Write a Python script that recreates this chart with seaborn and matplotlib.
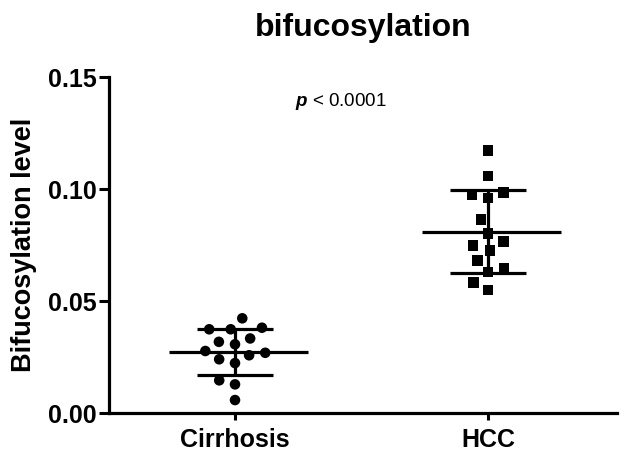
import numpy as np
import pandas as pd
import matplotlib
matplotlib.use("Agg")
import matplotlib.pyplot as plt
import seaborn as sns

# values
groups = ["Cirrhosis", "HCC"]
cirrhosis = [0.0423, 0.0374, 0.0381, 0.0374, 0.0318, 0.0333, 0.0307, 0.0277,
             0.0258, 0.0269, 0.0223, 0.0240, 0.0146, 0.0128, 0.0058]
hcc = [0.1173, 0.1058, 0.0984, 0.0976, 0.0961, 0.0865, 0.0802, 0.0765,
       0.0749, 0.0726, 0.0682, 0.0646, 0.0629, 0.0582, 0.0549]
y_ticks = [0.00, 0.05, 0.10, 0.15]

df = pd.DataFrame({
    "group": ["Cirrhosis"] * len(cirrhosis) + ["HCC"] * len(hcc),
    "value": cirrhosis + hcc,
})

sns.set_style("ticks")
plt.rcParams["font.family"] = ["Liberation Sans", "DejaVu Sans"]
plt.rcParams["mathtext.fontset"] = "custom"
plt.rcParams["mathtext.rm"] = "Liberation Sans"
plt.rcParams["mathtext.bfit"] = "Liberation Sans:italic:bold"

fig = plt.figure(figsize=(6.29, 4.62), dpi=100)
ax = fig.add_axes([0.1733, 0.106, 0.8077, 0.727])

markers = {"Cirrhosis": "o", "HCC": "s"}
for g in groups:
    # invisible edge widens the swarm spacing (Prism-like spread)
    sns.swarmplot(data=df[df["group"] == g], x="group", y="value", order=groups,
                  marker=markers[g], color="black", size=7.6, linewidth=3.6,
                  edgecolor="none", ax=ax, zorder=3)

# mean +/- SD
stats = df.groupby("group")["value"].agg(["mean", "std"]).reindex(groups)
for i, g in enumerate(groups):
    m, s = stats.loc[g, "mean"], stats.loc[g, "std"]
    ax.hlines(m, i - 0.26, i + 0.29, color="black", lw=2.3, zorder=4)
    ax.hlines([m - s, m + s], i - 0.15, i + 0.15, color="black", lw=2.3, zorder=4)
    ax.vlines(i, m - s, m + s, color="black", lw=2.3, zorder=4)

ax.set_xlim(-0.498, 1.51)
ax.set_ylim(0, 0.15)
ax.set_yticks(y_ticks)
ax.set_yticklabels([f"{t:.2f}" for t in y_ticks])
ax.set_xlabel("")
ax.set_ylabel("Bifucosylation level", fontsize=19.5, fontweight="bold",
              labelpad=8, color="black")

for lab in ax.get_xticklabels() + ax.get_yticklabels():
    lab.set_fontweight("bold")
ax.tick_params(axis="both", labelsize=18, width=2.2, color="black",
               labelcolor="black")
ax.tick_params(axis="x", length=5, pad=6)
ax.tick_params(axis="y", length=7, pad=2)

sns.despine(ax=ax)
for sp in ["left", "bottom"]:
    ax.spines[sp].set_linewidth(2.3)
    ax.spines[sp].set_color("black")

ax.text(0.42, 0.139, r"$\mathbfit{p}$ < 0.0001", fontsize=13.5,
        ha="center", va="center", color="black")

fig.text(0.577, 0.94, "bifucosylation", fontsize=23, fontweight="bold",
         ha="center", va="center", color="black")

fig.savefig("out.png", dpi=100)
